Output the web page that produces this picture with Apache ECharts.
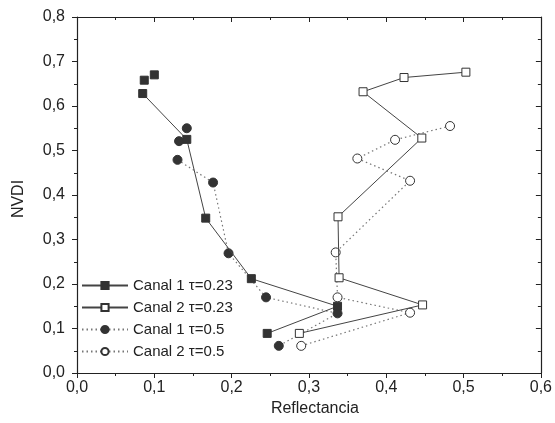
<!DOCTYPE html>
<html><head><meta charset="utf-8">
<script src="https://cdn.jsdelivr.net/npm/echarts@6/dist/echarts.min.js"></script>
<style>html,body{margin:0;padding:0;background:#fff}#c{width:555px;height:423px}</style>
</head><body><div id="c"></div>
<script>
// Series names
var seriesNames = ['Canal 1 \u03c4=0.23', 'Canal 2 \u03c4=0.23', 'Canal 1 \u03c4=0.5', 'Canal 2 \u03c4=0.5'];
// Canal 1 tau=0.23 (filled squares): points not joined by the line, then the joined path
var canal1t023Loose = [[0.100, 0.670], [0.087, 0.658]];
var canal1t023 = [[0.085, 0.628], [0.142, 0.525], [0.1665, 0.348], [0.2255, 0.212], [0.337, 0.150], [0.246, 0.089]];
// Canal 2 tau=0.23 (open squares)
var canal2t023 = [[0.503, 0.676], [0.423, 0.664], [0.370, 0.632], [0.446, 0.528], [0.3376, 0.351], [0.339, 0.214], [0.447, 0.153], [0.2876, 0.089]];
// Canal 1 tau=0.5 (filled circles)
var canal1t05Loose = [[0.142, 0.550], [0.132, 0.521]];
var canal1t05 = [[0.130, 0.479], [0.176, 0.428], [0.196, 0.269], [0.2445, 0.170], [0.337, 0.134], [0.261, 0.061]];
// Canal 2 tau=0.5 (open circles)
var canal2t05 = [[0.4825, 0.555], [0.4114, 0.524], [0.3626, 0.482], [0.4308, 0.432], [0.3346, 0.271], [0.337, 0.170], [0.4308, 0.1355], [0.290, 0.061]];

var axisColor = '#222';
var fmt = function (v) { return v.toFixed(1).replace('.', ','); };
var font = 'Liberation Sans, Arial, sans-serif';

function xAx(pos, inside, show) {
  return {
    type: 'value', position: pos, min: 0, max: 0.6, interval: 0.1,
    axisLine: { show: true, onZero: false, lineStyle: { color: axisColor, width: 1.2 } },
    axisTick: { show: true, inside: inside, length: 5, lineStyle: { color: axisColor } },
    minorTick: { show: true, splitNumber: 2, length: 3, lineStyle: { color: axisColor } },
    splitLine: { show: false },
    axisLabel: { show: show, formatter: fmt, color: '#222', fontSize: 16, fontFamily: font, margin: 7 }
  };
}
function yAx(pos, inside, show) {
  return {
    type: 'value', position: pos, min: 0, max: 0.8, interval: 0.1,
    axisLine: { show: true, onZero: false, lineStyle: { color: axisColor, width: 1.2 } },
    axisTick: { show: true, inside: inside, length: 5, lineStyle: { color: axisColor } },
    minorTick: { show: true, splitNumber: 2, length: 3, lineStyle: { color: axisColor } },
    splitLine: { show: false },
    axisLabel: { show: show, formatter: fmt, color: '#222', fontSize: 16, fontFamily: font, margin: 12 }
  };
}
var xa = xAx('bottom', false, true);
xa.name = 'Reflectancia'; xa.nameLocation = 'middle'; xa.nameGap = 28;
xa.nameTextStyle = { fontSize: 16, color: '#222', fontFamily: font, padding: [0, 0, 0, 12] };
var ya = yAx('left', false, true);
ya.name = 'NVDI'; ya.nameLocation = 'middle'; ya.nameGap = 50;
ya.nameTextStyle = { fontSize: 16, color: '#222', fontFamily: font, padding: [0, 8, 0, 0] };
var xb = xAx('top', true, false);
var yb = yAx('right', true, false);

var solid = { color: '#444', width: 1, type: 'solid' };
var dotted = { color: '#777', width: 1.2, type: [1.5, 3] };
var filled = { color: '#333', borderColor: '#333', borderWidth: 1, opacity: 1 };
var hollow = { color: '#fff', borderColor: '#333', borderWidth: 1, opacity: 1 };

var option = {
  animation: false,
  backgroundColor: '#fff',
  grid: { left: 77, right: 14, top: 17, bottom: 50 },
  xAxis: [xa, xb],
  yAxis: [ya, yb],
  legend: {
    data: seriesNames, orient: 'vertical', left: 76, top: 273,
    itemWidth: 46, itemHeight: 9, itemGap: 7,
    textStyle: { fontSize: 15, color: '#222', fontFamily: font, lineHeight: 14 }
  },
  series: [
    { name: seriesNames[0], type: 'line', data: canal1t023, symbol: 'rect', symbolSize: 8, lineStyle: solid, itemStyle: filled, z: 3 },
    { name: seriesNames[1], type: 'line', data: canal2t023, symbol: 'rect', symbolSize: 8, lineStyle: solid, itemStyle: hollow, z: 3 },
    { name: seriesNames[2], type: 'line', data: canal1t05, symbol: 'circle', symbolSize: 9, lineStyle: dotted, itemStyle: filled, z: 2 },
    { name: seriesNames[3], type: 'line', data: canal2t05, symbol: 'circle', symbolSize: 9, lineStyle: dotted, itemStyle: hollow, z: 2 },
    { name: seriesNames[0], type: 'scatter', data: canal1t023Loose, symbol: 'rect', symbolSize: 8, itemStyle: filled, z: 3 },
    { name: seriesNames[2], type: 'scatter', data: canal1t05Loose, symbol: 'circle', symbolSize: 9, itemStyle: filled, z: 2 }
  ]
};
var chart = echarts.init(document.getElementById('c'), null, { renderer: 'canvas' });
chart.setOption(option);
</script>
</body></html>
